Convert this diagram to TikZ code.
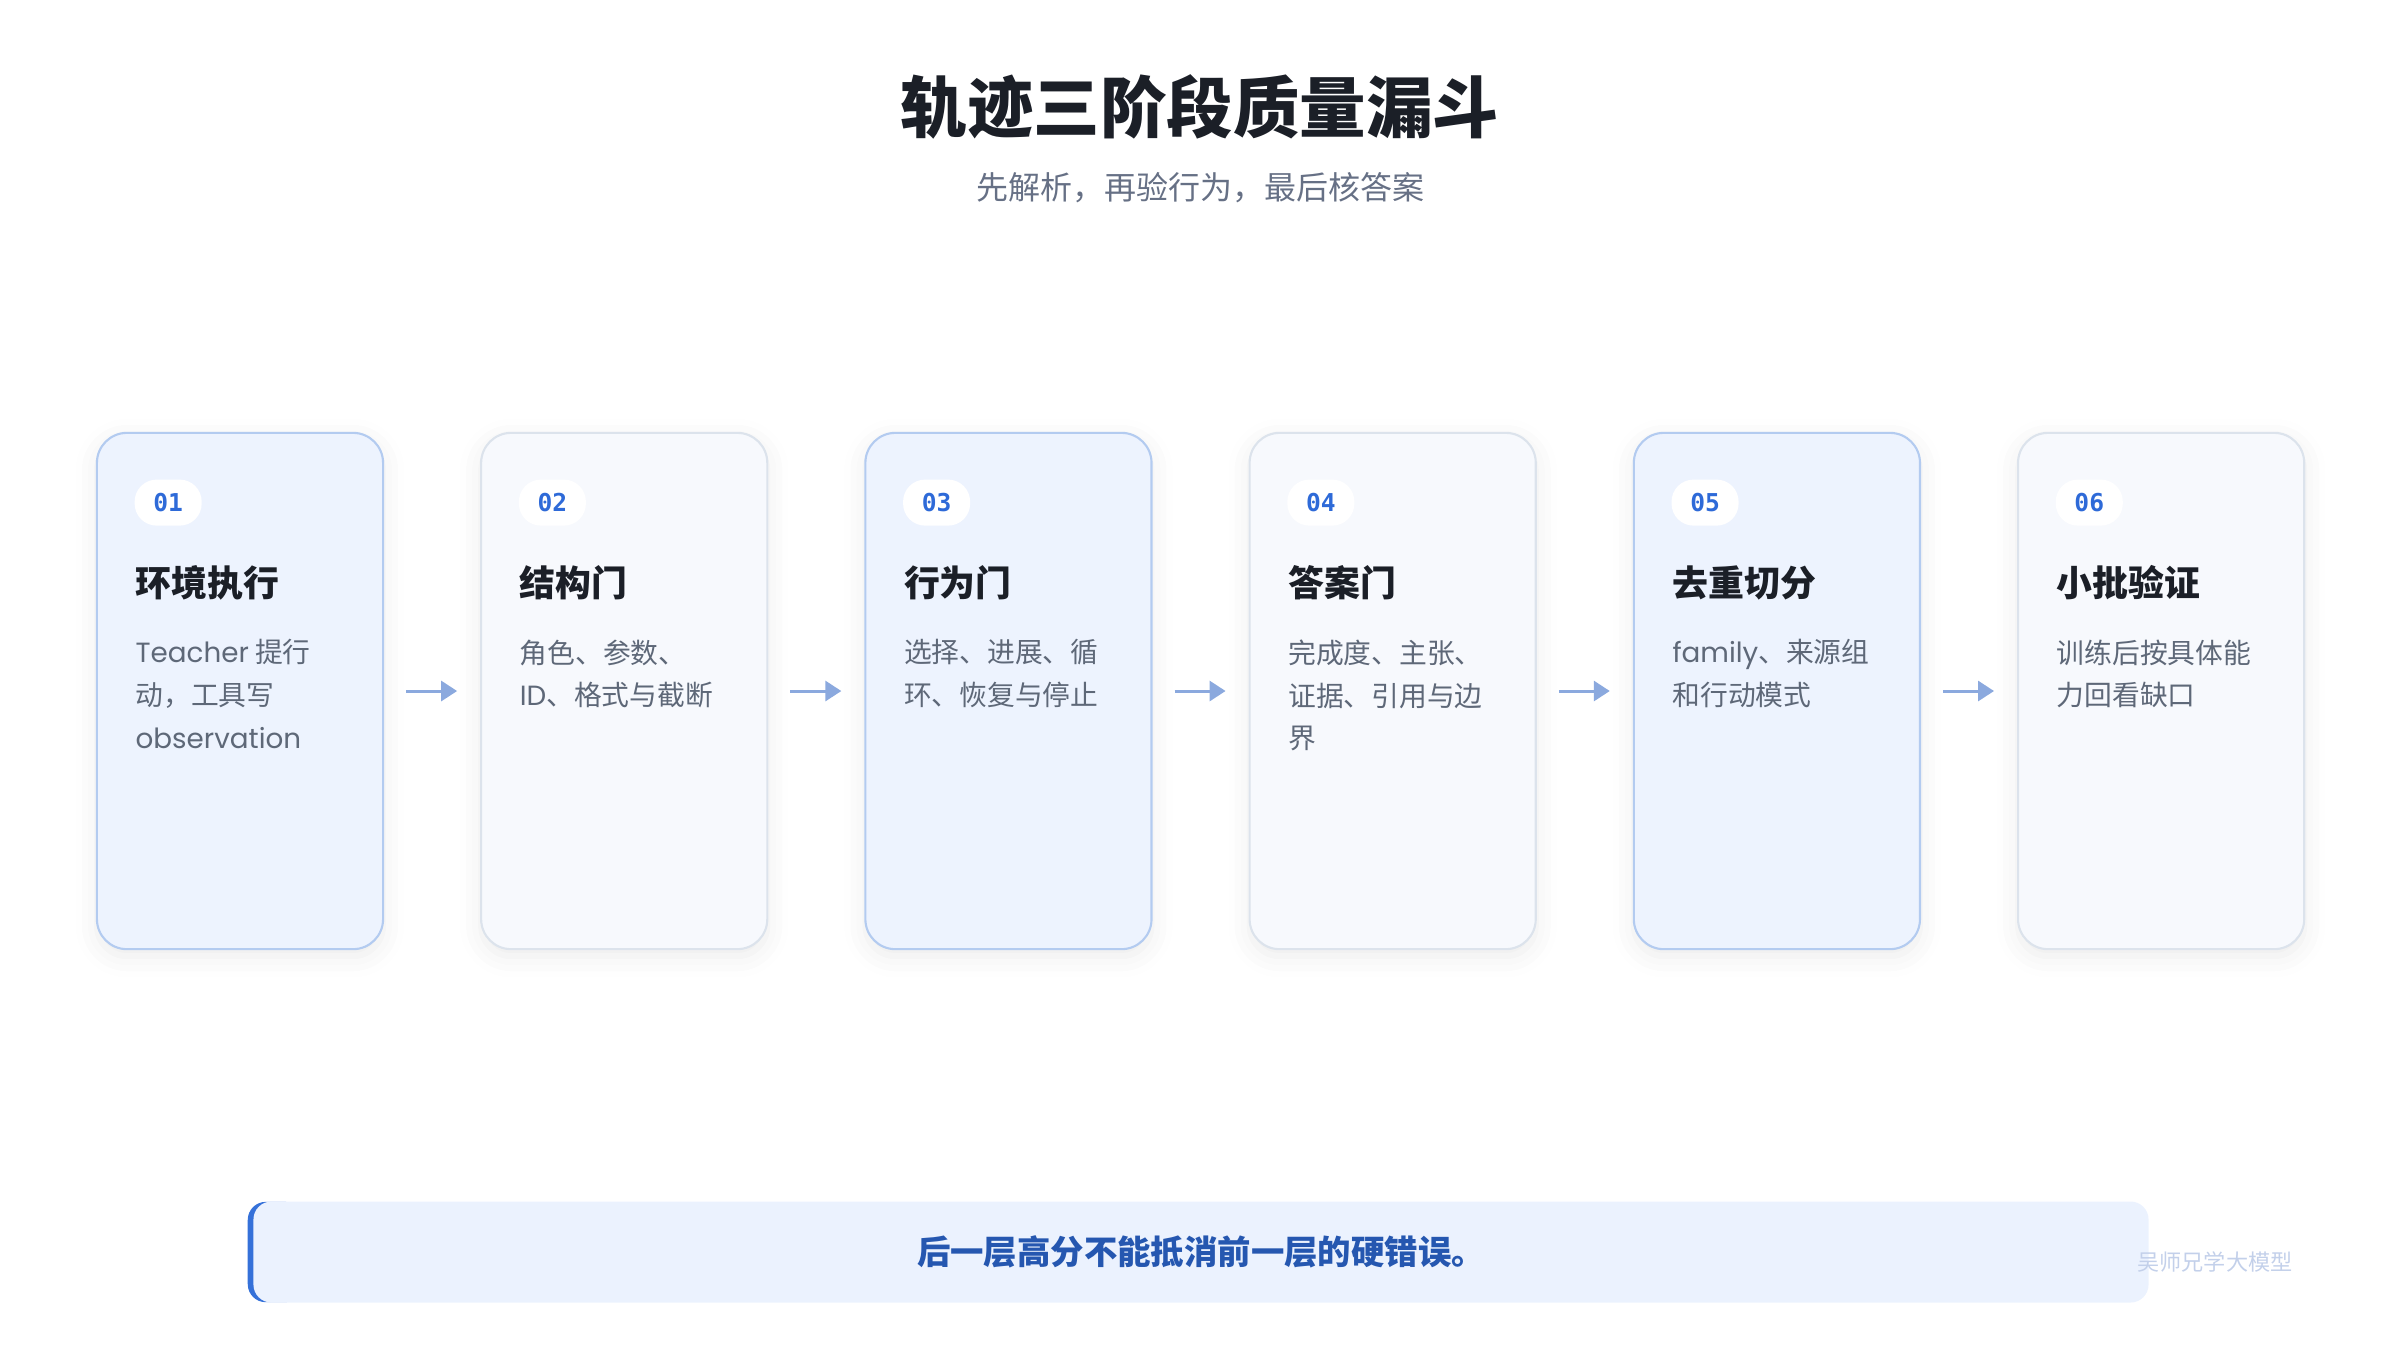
\documentclass[tikz,border=0pt]{standalone}
\usepackage{fontspec}
\setmainfont{Noto Sans CJK SC}
\newfontfamily\monofont{DejaVu Sans Mono}
\newfontfamily\latinfont{Poppins}
\usepackage{xcolor}
\usetikzlibrary{arrows.meta, positioning, calc, backgrounds, shadows.blur}

\definecolor{inkdark}{HTML}{1B1F27}
\definecolor{inkgray}{HTML}{5E6878}
\definecolor{subgray}{HTML}{667085}
\definecolor{hifill}{HTML}{EDF3FE}
\definecolor{hiline}{HTML}{B3CBF0}
\definecolor{lofill}{HTML}{F7F9FD}
\definecolor{loline}{HTML}{DCE3EC}
\definecolor{numblue}{HTML}{2E6AD8}
\definecolor{flowblue}{HTML}{8BA9DE}
\definecolor{notefill}{HTML}{EBF2FE}
\definecolor{noteblue}{HTML}{3571D9}
\definecolor{notetext}{HTML}{2557B0}
\definecolor{markgray}{HTML}{C3D0EA}

\begin{document}
\begin{tikzpicture}[x=0.01cm, y=-0.01cm,
  card/.style={rounded corners=0.3cm, minimum width=2.86cm, minimum height=5.16cm, inner sep=0pt, outer sep=0pt, line width=0.6pt, blur shadow={shadow xshift=0pt, shadow yshift=-2pt, shadow opacity=8, shadow blur radius=6pt}},
  cardhi/.style={card, draw=hiline, fill=hifill},
  cardlo/.style={card, draw=loline, fill=lofill},
  badge/.style={fill=white, rounded corners=0.22cm, minimum width=0.67cm, minimum height=0.46cm, inner sep=0pt, font=\monofont\bfseries\fontsize{7}{8}\selectfont, text=numblue},
  head/.style={anchor=west, inner sep=0pt, font=\bfseries\fontsize{10.2}{12}\selectfont, text=inkdark},
  body/.style={anchor=north west, inner sep=0pt, align=left, font=\fontsize{7.9}{12.2}\selectfont, text=inkgray},
  flow/.style={-{Triangle[length=1.6mm, width=2mm]}, line width=0.85pt, draw=flowblue},
  notebar/.style={fill=notefill, rounded corners=0.18cm, minimum width=18.94cm, minimum height=1.01cm, inner sep=0pt, font=\bfseries\fontsize{9.5}{11}\selectfont, text=notetext}
]
  \useasboundingbox (0,0) rectangle (2400,1350);

  % Title
  \node[font=\bfseries\fontsize{18.9}{22}\selectfont, text=inkdark] (title) at (1200,107) {轨迹三阶段质量漏斗};
  \node[font=\fontsize{9.1}{11}\selectfont, text=subgray] (subtitle) at (1200,188) {先解析，再验行为，最后核答案};

  % Stage cards
  \node[cardhi] (c1) at (240,691) {};
  \node[cardlo, right=0.98cm of c1] (c2) {};
  \node[cardhi, right=0.98cm of c2] (c3) {};
  \node[cardlo, right=0.98cm of c3] (c4) {};
  \node[cardhi, right=0.98cm of c4] (c5) {};
  \node[cardlo, right=0.98cm of c5] (c6) {};

  \node[badge, below right=0.46cm and 0.37cm of c1.north west] (n1) {01};
  \node[badge, below right=0.46cm and 0.37cm of c2.north west] (n2) {02};
  \node[badge, below right=0.46cm and 0.37cm of c3.north west] (n3) {03};
  \node[badge, below right=0.46cm and 0.37cm of c4.north west] (n4) {04};
  \node[badge, below right=0.46cm and 0.37cm of c5.north west] (n5) {05};
  \node[badge, below right=0.46cm and 0.37cm of c6.north west] (n6) {06};

  \node[head] (h1) at ($(c1.north west)+(38,150)$) {环境执行};
  \node[head] (h2) at ($(c2.north west)+(38,150)$) {结构门};
  \node[head] (h3) at ($(c3.north west)+(38,150)$) {行为门};
  \node[head] (h4) at ($(c4.north west)+(38,150)$) {答案门};
  \node[head] (h5) at ($(c5.north west)+(38,150)$) {去重切分};
  \node[head] (h6) at ($(c6.north west)+(38,150)$) {小批验证};

  \node[body] (b1) at ($(c1.north west)+(38,206)$) {{\latinfont Teacher} 提行\\动，工具写\\{\latinfont observation}};
  \node[body] (b2) at ($(c2.north west)+(38,206)$) {角色、参数、\\{\latinfont ID}、格式与截断};
  \node[body] (b3) at ($(c3.north west)+(38,206)$) {选择、进展、循\\环、恢复与停止};
  \node[body] (b4) at ($(c4.north west)+(38,206)$) {完成度、主张、\\证据、引用与边\\界};
  \node[body] (b5) at ($(c5.north west)+(38,206)$) {{\latinfont family}、来源组\\和行动模式};
  \node[body] (b6) at ($(c6.north west)+(38,206)$) {训练后按具体能\\力回看缺口};

  \draw[flow] ([xshift=0.23cm]c1.east) -- ([xshift=-0.24cm]c2.west);
  \draw[flow] ([xshift=0.23cm]c2.east) -- ([xshift=-0.24cm]c3.west);
  \draw[flow] ([xshift=0.23cm]c3.east) -- ([xshift=-0.24cm]c4.west);
  \draw[flow] ([xshift=0.23cm]c4.east) -- ([xshift=-0.24cm]c5.west);
  \draw[flow] ([xshift=0.23cm]c5.east) -- ([xshift=-0.24cm]c6.west);

  % Bottom note
  \node[notebar] (note) at (1201,1252) {后一层高分不能抵消前一层的硬错误。};
  \begin{scope}[on background layer]
    \fill[noteblue, rounded corners=0.18cm] ([xshift=-0.05cm, yshift=-0.3pt]note.north west) rectangle ([xshift=0.5cm, yshift=0.3pt]note.south west);
  \end{scope}

  \node[font=\fontsize{6.3}{8}\selectfont, text=markgray] (mark) at (2215,1262) {吴师兄学大模型};
\end{tikzpicture}
\end{document}
